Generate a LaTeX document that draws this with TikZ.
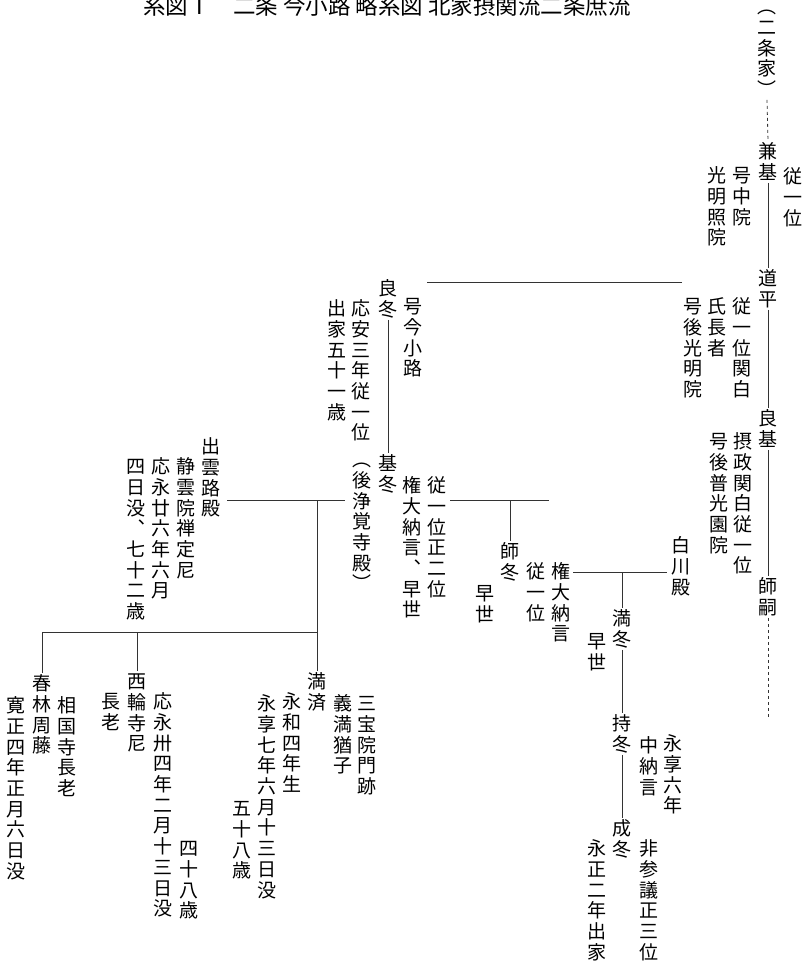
\documentclass[tikz,border=0pt]{standalone}
\usepackage{fontspec}
\newfontfamily\jpfont{Noto Sans CJK JP}
\newdimen\tateH \tateH=17.57pt
\newdimen\tateD \tateD=3.13pt
\newdimen\tateW \tateW=19pt
\ExplSyntaxOn
\NewDocumentCommand\tatetext{m}
  {
    \vbox{\offinterlineskip
      \tl_map_inline:nn {#1}
        { \hbox~to\tateW{\hss\vrule~height\tateH~depth\tateD~width0pt~##1\hss} }
    }
  }
\ExplSyntaxOff
\tikzset{
  tate/.style={inner sep=0pt, anchor=north, font=\jpfont\fontsize{19}{20.7}\selectfont},
  titletext/.style={inner sep=0pt, anchor=base west, font=\jpfont\fontsize{22.5}{24}\selectfont},
  link/.style={draw=black!80, line width=0.8pt},
  dotlink/.style={link, dash pattern=on 3pt off 3pt},
}
\begin{document}
\begin{tikzpicture}[x=1pt,y=-1pt]
\useasboundingbox (0,0) rectangle (809,964);
% title
\node[titletext] (title1) at (143,14) {系図Ⅰ};
\node[titletext] (title2) at (233,14) {二条 今小路 略系図 北家摂関流二条庶流};
% main line
\node[tate] (nijo) at (767,-4) {\tatetext{︵二条家︶}};
\node[tate] (kanemoto) at (768,141) {\tatetext{兼基}};
\node[tate] (k1) at (793,166) {\tatetext{従一位}};
\node[tate] (k2) at (742,165) {\tatetext{号中院}};
\node[tate] (k3) at (717,165) {\tatetext{光明照院}};
\node[tate] (michihira) at (768,268) {\tatetext{道平}};
\node[tate] (m1) at (742,296) {\tatetext{従一位関白}};
\node[tate] (m2) at (717,296) {\tatetext{氏長者}};
\node[tate] (m3) at (693,296) {\tatetext{号後光明院}};
\node[tate] (yoshimoto) at (768,408) {\tatetext{良基}};
\node[tate] (y1) at (743,431) {\tatetext{摂政関白従一位}};
\node[tate] (y2) at (719,431) {\tatetext{号後普光園院}};
\node[tate] (morotsugu) at (768,576) {\tatetext{師嗣}};
\coordinate (mtEnd) at (768,717);
% imakoji branch
\node[tate] (yoshifuyu) at (388,278) {\tatetext{良冬}};
\node[tate] (yf1) at (413,296) {\tatetext{号今小路}};
\node[tate] (yf2) at (361,298) {\tatetext{応安三年従一位}};
\node[tate] (yf3) at (337,298) {\tatetext{出家五十一歳}};
\node[tate] (motofuyu) at (388,453) {\tatetext{基冬}};
\node[tate] (mf1) at (362,449) {\tatetext{︵後浄覚寺殿︶}};
\node[tate] (mf2) at (412,475) {\tatetext{権大納言︑早世}};
\node[tate] (mf3) at (437,475) {\tatetext{従一位正二位}};
% izumoji
\node[tate] (izumoji) at (211,436) {\tatetext{出雲路殿}};
\node[tate] (iz1) at (186,456) {\tatetext{静雲院禅定尼}};
\node[tate] (iz2) at (161,456) {\tatetext{応永廿六年六月}};
\node[tate] (iz3) at (136,456) {\tatetext{四日没︑七十二歳}};
% children
\node[tate] (mansai) at (317,671) {\tatetext{満済}};
\node[tate] (ms1) at (292,691) {\tatetext{永和四年生}};
\node[tate] (ms2) at (267,693) {\tatetext{永享七年六月十三日没}};
\node[tate] (ms3) at (242,798) {\tatetext{五十八歳}};
\node[tate] (ms4) at (367,693) {\tatetext{三宝院門跡}};
\node[tate] (ms5) at (343,693) {\tatetext{義満猶子}};
\node[tate] (sairinji) at (137,671) {\tatetext{西輪寺尼}};
\node[tate] (sr1) at (111,691) {\tatetext{長老}};
\node[tate] (sr2) at (163,691) {\tatetext{応永卅四年二月十三日没}};
\node[tate] (sr3) at (189,838) {\tatetext{四十八歳}};
\node[tate] (shunrin) at (42,673) {\tatetext{春林周藤}};
\node[tate] (sh1) at (67,695) {\tatetext{相国寺長老}};
\node[tate] (sh2) at (16,695) {\tatetext{寛正四年正月六日没}};
% morofuyu line
\node[tate] (morofuyu) at (510,541) {\tatetext{師冬}};
\node[tate] (mo1) at (485,583) {\tatetext{早世}};
\node[tate] (mo2) at (536,561) {\tatetext{従一位}};
\node[tate] (mo3) at (561,561) {\tatetext{権大納言}};
\node[tate] (shirakawa) at (681,535) {\tatetext{白川殿}};
\node[tate] (mitsufuyu) at (622,608) {\tatetext{満冬}};
\node[tate] (mi1) at (597,631) {\tatetext{早世}};
\node[tate] (mochifuyu) at (622,713) {\tatetext{持冬}};
\node[tate] (mc1) at (649,735) {\tatetext{中納言}};
\node[tate] (mc2) at (673,733) {\tatetext{永享六年}};
\node[tate] (narifuyu) at (622,818) {\tatetext{成冬}};
\node[tate] (n1) at (597,838) {\tatetext{永正二年出家}};
\node[tate] (n2) at (649,838) {\tatetext{非参議正三位}};
% coordinates for branch lines
\coordinate (bA) at (682,282);
\coordinate (bB) at (427,282);
\coordinate (mfR) at (450,500);
\coordinate (mfD) at (510,500);
\coordinate (mfE) at (549,500);
\coordinate (izR) at (227,500);
\coordinate (izD) at (317,500);
\coordinate (izL) at (345,500);
\coordinate (kidsR) at (317,632);
\coordinate (kidsM) at (137,632);
\coordinate (kidsL) at (42,632);
\coordinate (shL) at (573,572);
\coordinate (shD) at (622,572);
\coordinate (shR) at (667,572);
% connectors
\draw[dotlink] (nijo.south) -- (kanemoto.north);
\draw[link] (kanemoto.south) -- (michihira.north);
\draw[link] (michihira.south) -- (yoshimoto.north);
\draw[link] (yoshimoto.south) -- (morotsugu.north);
\draw[dotlink] (morotsugu.south) -- (mtEnd);
\draw[link] (bA) -- (bB);
\draw[link] (yoshifuyu.south) -- (motofuyu.north);
\draw[link] (mfR) -- (mfE);
\draw[link] (mfD) -- (morofuyu.north);
\draw[link] (izR) -- (izL);
\draw[link] (izD) -- (mansai.north);
\draw[link] (kidsR) -- (kidsL);
\draw[link] (kidsM) -- (sairinji.north);
\draw[link] (kidsL) -- (shunrin.north);
\draw[link] (shL) -- (shR);
\draw[link] (shD) -- (mitsufuyu.north);
\draw[link] (mitsufuyu.south) -- (mochifuyu.north);
\draw[link] (mochifuyu.south) -- (narifuyu.north);
\end{tikzpicture}
\end{document}
